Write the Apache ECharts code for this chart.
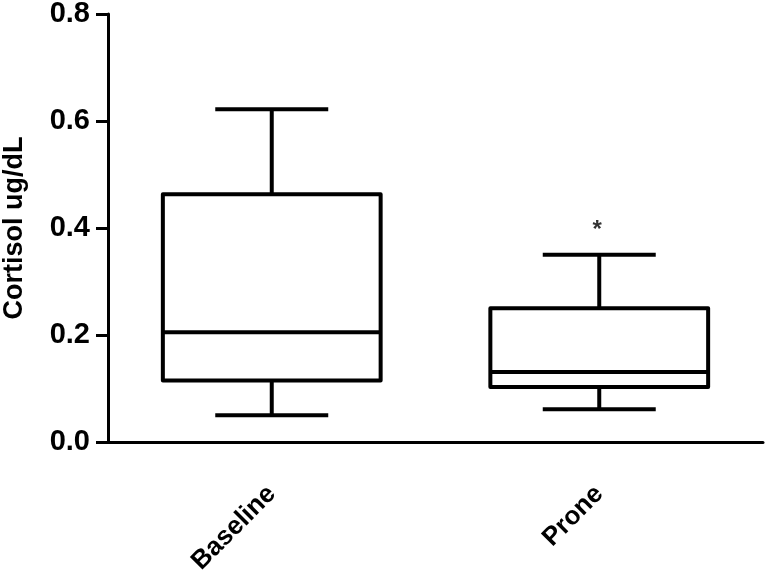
<!DOCTYPE html>
<html>
<head>
<meta charset="utf-8">
<script src="https://cdn.jsdelivr.net/npm/echarts@6/dist/echarts.min.js"></script>
<style>
  html, body { margin: 0; padding: 0; background: #fff; }
  #chart { width: 771px; height: 575px; }
</style>
</head>
<body>
<div id="chart"></div>
<script>
// groups on the x axis
var categories = ['Baseline', 'Prone'];
// box stats per group: min, q1, median, q3, max
var whiskerMin = [0.050, 0.061];
var quartile1 = [0.115, 0.103];
var medians = [0.205, 0.131];
var quartile3 = [0.463, 0.250];
var whiskerMax = [0.622, 0.350];
// significance mark
var starGroup = 'Prone';
var starValue = 0.405;
var yTicks = [0, 0.2, 0.4, 0.6, 0.8];

var FONT = '"Liberation Sans", Arial, sans-serif';
var INK = '#000';

var boxData = categories.map(function (c, i) {
  return [i, whiskerMin[i], quartile1[i], medians[i], quartile3[i], whiskerMax[i]];
});

function renderBox(params, api) {
  var idx = api.value(0);
  var pt = function (v) { return api.coord([idx, v]); };
  var band = api.size([1, 0])[0];
  var bw = band * 0.665;  // box width
  var cw = band * 0.345;  // whisker cap width
  var lo = pt(api.value(1)), q1 = pt(api.value(2)), md = pt(api.value(3));
  var q3 = pt(api.value(4)), hi = pt(api.value(5));
  var x = md[0];
  var st = { stroke: INK, lineWidth: 4, fill: null, lineJoin: 'round' };
  var line = function (x1, y1, x2, y2) {
    return { type: 'line', shape: { x1: x1, y1: y1, x2: x2, y2: y2 }, style: st };
  };
  return {
    type: 'group',
    children: [
      { type: 'rect', shape: { x: x - bw / 2, y: q3[1], width: bw, height: q1[1] - q3[1] }, style: st },
      line(x - bw / 2, md[1], x + bw / 2, md[1]),
      line(x, q3[1], x, hi[1]),
      line(x - cw / 2, hi[1], x + cw / 2, hi[1]),
      line(x, q1[1], x, lo[1]),
      line(x - cw / 2, lo[1], x + cw / 2, lo[1])
    ]
  };
}

var chart = echarts.init(document.getElementById('chart'));
chart.setOption({
  animation: false,
  grid: { left: 108, right: 8, top: 14, bottom: 133, containLabel: false, outerBoundsMode: 'none' },
  xAxis: {
    type: 'category',
    data: categories,
    axisLine: { lineStyle: { color: INK, width: 3 } },
    axisTick: { alignWithLabel: true, length: 12, lineStyle: { color: INK, width: 3 } },
    axisLabel: {
      rotate: 45, margin: 48, color: INK, fontFamily: FONT,
      fontWeight: 'bold', fontSize: 26
    }
  },
  yAxis: {
    type: 'value',
    min: yTicks[0],
    max: yTicks[yTicks.length - 1],
    interval: 0.2,
    name: 'Cortisol ug/dL',
    nameLocation: 'middle',
    nameGap: 80,
    nameTextStyle: { color: INK, fontFamily: FONT, fontWeight: 'bold', fontSize: 27 },
    splitLine: { show: false },
    axisLine: { show: true, lineStyle: { color: INK, width: 3 } },
    axisTick: { show: true, length: 12, lineStyle: { color: INK, width: 3 } },
    axisLabel: {
      margin: 18, color: INK, fontFamily: FONT, fontWeight: 'bold', fontSize: 29,
      formatter: function (v) { return v.toFixed(1); }
    }
  },
  series: [
    {
      type: 'custom',
      renderItem: renderBox,
      data: boxData,
      encode: { x: 0, y: [1, 2, 3, 4, 5] }
    },
    {
      type: 'scatter',
      data: [[starGroup, starValue]],
      symbolSize: 0,
      label: {
        show: true, formatter: '*', position: 'inside', offset: [-2, 5],
        color: INK, fontFamily: FONT, fontWeight: 'bold', fontSize: 24
      }
    }
  ]
});
</script>
</body>
</html>
